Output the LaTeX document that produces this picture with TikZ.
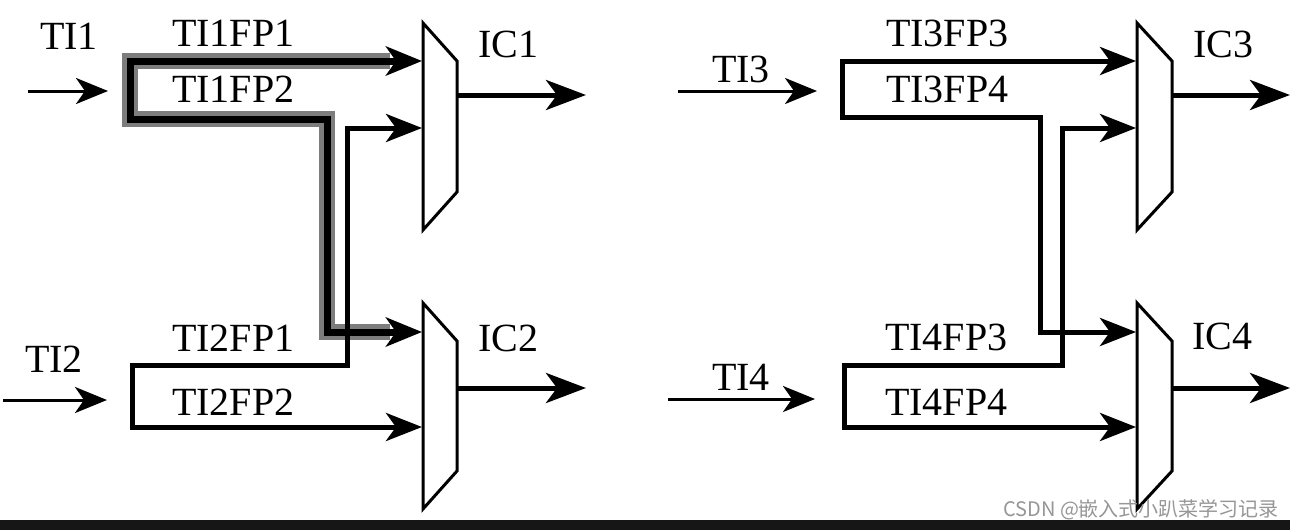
\documentclass[tikz,border=0pt]{standalone}
\usepackage{fontspec}
\setmainfont{Liberation Serif}
\newfontfamily\cjk{Noto Sans CJK SC}
\usetikzlibrary{arrows.meta}
\definecolor{hlgray}{RGB}{125,125,125}
\definecolor{barblack}{RGB}{22,22,22}
\definecolor{wmgray}{RGB}{150,150,150}
\begin{document}
\begin{tikzpicture}[x=1pt,y=-1pt,
  lbl/.style={anchor=base west, inner sep=0pt, font=\fontsize{40}{48}\selectfont},
  inarrow/.style={line width=3pt, -{Stealth[length=32pt,width=26pt,inset=9pt]}},
  route/.style={line width=5pt, line join=miter,
    {Stealth[length=36pt,width=28pt,inset=10pt]}-{Stealth[length=36pt,width=28pt,inset=10pt]}},
  hlroute/.style={line width=7pt, line join=miter,
    {Stealth[length=36pt,width=29pt,inset=10pt]}-{Stealth[length=36pt,width=29pt,inset=10pt]}},
  hlhalo/.style={draw=hlgray, line width=16pt, line join=miter, shorten <=32pt, shorten >=32pt},
  outarrow/.style={line width=5pt, -{Stealth[length=40pt,width=30pt,inset=11pt]}},
  muxbox/.style={draw, fill=white, line width=3pt, line join=miter},
  wm/.style={anchor=base west, inner sep=0pt, text=wmgray, font=\cjk\fontsize{20}{24}\selectfont}
]
\useasboundingbox (0,0) rectangle (1290,530);
\fill[white] (0,0) rectangle (1290,530);

% ---------- multiplexers ----------
\coordinate (m1a) at (423,23);  \coordinate (m1b) at (457,61);
\coordinate (m1c) at (457,192); \coordinate (m1d) at (423,230);
\coordinate (m2a) at (423,303); \coordinate (m2b) at (457,341);
\coordinate (m2c) at (457,471); \coordinate (m2d) at (423,509);
\coordinate (m3a) at (1137,23); \coordinate (m3b) at (1172,61);
\coordinate (m3c) at (1172,192);\coordinate (m3d) at (1137,230);
\coordinate (m4a) at (1137,303);\coordinate (m4b) at (1172,341);
\coordinate (m4c) at (1172,471);\coordinate (m4d) at (1137,509);
\draw[muxbox] (m1a) -- (m1b) -- (m1c) -- (m1d) -- cycle;
\draw[muxbox] (m2a) -- (m2b) -- (m2c) -- (m2d) -- cycle;
\draw[muxbox] (m3a) -- (m3b) -- (m3c) -- (m3d) -- cycle;
\draw[muxbox] (m4a) -- (m4b) -- (m4c) -- (m4d) -- cycle;

% mux ports
\coordinate (m1i1) at (422,61);  \coordinate (m1i2) at (422,128);
\coordinate (m2i1) at (422,332); \coordinate (m2i2) at (422,427);
\coordinate (m3i1) at (1136,61); \coordinate (m3i2) at (1136,128);
\coordinate (m4i1) at (1136,332);\coordinate (m4i2) at (1136,427);
\coordinate (m1o) at (457,95);   \coordinate (m1t) at (586,95);
\coordinate (m2o) at (457,388);  \coordinate (m2t) at (586,388);
\coordinate (m3o) at (1172,95);  \coordinate (m3t) at (1290,95);
\coordinate (m4o) at (1172,388); \coordinate (m4t) at (1290,388);

% ---------- inputs ----------
\coordinate (ti1s) at (28,91);   \coordinate (ti1e) at (108,91);
\coordinate (ti2s) at (3,400);   \coordinate (ti2e) at (107,400);
\coordinate (ti3s) at (678,91);  \coordinate (ti3e) at (817,91);
\coordinate (ti4s) at (668,399); \coordinate (ti4e) at (815,399);
\draw[inarrow] (ti1s) -- (ti1e);
\draw[inarrow] (ti2s) -- (ti2e);
\draw[inarrow] (ti3s) -- (ti3e);
\draw[inarrow] (ti4s) -- (ti4e);

% ---------- routing corners ----------
\coordinate (p1a) at (130,61);  \coordinate (p1b) at (130,119);
\coordinate (p1c) at (327,119); \coordinate (p1d) at (327,332);
\coordinate (p2a) at (347,128); \coordinate (p2b) at (347,365);
\coordinate (p2c) at (132,365); \coordinate (p2d) at (132,427);
\coordinate (p3a) at (842,61);  \coordinate (p3b) at (842,117);
\coordinate (p3c) at (1040,117);\coordinate (p3d) at (1040,332);
\coordinate (p4a) at (1062,128);\coordinate (p4b) at (1062,365);
\coordinate (p4c) at (844,365); \coordinate (p4d) at (844,427);

% highlighted TI1 path
\draw[hlhalo] (m1i1) -- (p1a) -- (p1b) -- (p1c) -- (p1d) -- (m2i1);
\draw[hlroute] (m1i1) -- (p1a) -- (p1b) -- (p1c) -- (p1d) -- (m2i1);
% TI2 path
\draw[route] (m1i2) -- (p2a) -- (p2b) -- (p2c) -- (p2d) -- (m2i2);
% TI3 path
\draw[route] (m3i1) -- (p3a) -- (p3b) -- (p3c) -- (p3d) -- (m4i1);
% TI4 path
\draw[route] (m3i2) -- (p4a) -- (p4b) -- (p4c) -- (p4d) -- (m4i2);

% outputs
\draw[outarrow] (m1o) -- (m1t);
\draw[outarrow] (m2o) -- (m2t);
\draw[outarrow] (m3o) -- (m3t);
\draw[outarrow] (m4o) -- (m4t);

% ---------- labels ----------
\node[lbl] (lti1) at (40,49) {TI1};
\node[lbl] (l11) at (172,46) {TI1FP1};
\node[lbl] (l12) at (172,102) {TI1FP2};
\node[lbl] (lic1) at (478,57) {IC1};
\node[lbl] (lti2) at (25,372) {TI2};
\node[lbl] (l21) at (172,351) {TI2FP1};
\node[lbl] (l22) at (172,415) {TI2FP2};
\node[lbl] (lic2) at (478,351) {IC2};
\node[lbl] (lti3) at (712,82) {TI3};
\node[lbl] (l33) at (886,46) {TI3FP3};
\node[lbl] (l34) at (886,102) {TI3FP4};
\node[lbl] (lic3) at (1193,57) {IC3};
\node[lbl] (lti4) at (712,390) {TI4};
\node[lbl] (l43) at (885,350) {TI4FP3};
\node[lbl] (l44) at (885,415) {TI4FP4};
\node[lbl] (lic4) at (1192,349) {IC4};

% ---------- bottom bar and watermark ----------
\fill[barblack] (0,520) rectangle (1290,530);
\node[wm] (wmark) at (1003,516) {CSDN @嵌入式小趴菜学习记录};
\end{tikzpicture}
\end{document}
